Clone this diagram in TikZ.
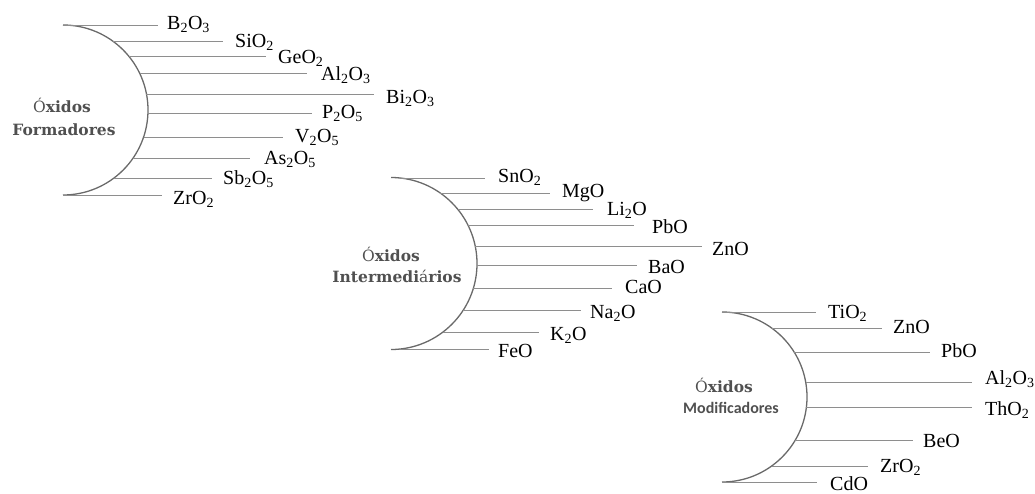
\documentclass[tikz,border=0pt]{standalone}
\usepackage{fontspec}
\setmainfont{Liberation Serif}
\newfontfamily\grpserif{DejaVu Serif}
\newfontfamily\grpsans{Carlito}
\definecolor{arcgray}{HTML}{6A6A6A}
\definecolor{spokegray}{HTML}{8E8E8E}
\definecolor{grptext}{HTML}{505050}
\tikzset{
  arcline/.style={draw=arcgray, line width=1.3pt},
  spoke/.style={draw=spokegray, line width=0.8pt},
  lbl/.style={anchor=base west, inner sep=0pt, font=\fontsize{20}{24}\selectfont},
  grp/.style={anchor=base, inner sep=0pt, text=grptext, font=\grpserif\bfseries\fontsize{15.5}{18}\selectfont},
  grpsf/.style={anchor=base, inner sep=0pt, text=grptext, font=\grpsans\bfseries\fontsize{16}{19}\selectfont}
}
\begin{document}
\begin{tikzpicture}[x=1pt,y=1pt]
\useasboundingbox (0,0) rectangle (1035,-493);

% ---------- Group 1: Formadores ----------
\draw[arcline] (63,-25) arc[start angle=90,end angle=-90,radius=85pt];
\node[grp] (g1a) at (62,-112) {{\mdseries Ó}xidos};
\node[grp] (g1b) at (64,-135) {Formadores};
\foreach \y/\xe/\tx/\ty/\lab [count=\i] in {
  25/158/167/29/B\textsubscript{2}O\textsubscript{3},
  41/223/235/47/SiO\textsubscript{2},
  56/266/278/63/GeO\textsubscript{2},
  73/307/321/80/Al\textsubscript{2}O\textsubscript{3},
  94/374/386/103/Bi\textsubscript{2}O\textsubscript{3},
  113/312/322/118/P\textsubscript{2}O\textsubscript{5},
  137/283/295/142/V\textsubscript{2}O\textsubscript{5},
  158/250/264/164/As\textsubscript{2}O\textsubscript{5},
  178/212/223/184/Sb\textsubscript{2}O\textsubscript{5},
  195/162/173/204/ZrO\textsubscript{2}}{
  \pgfmathsetmacro\xs{63+sqrt(max(0,85*85-(\y-110)*(\y-110)))}
  \coordinate (fs\i) at (\xs,-\y);
  \coordinate (fe\i) at (\xe,-\y);
  \node[lbl] (f\i) at (\tx,-\ty) {\lab};
  \draw[spoke] (fs\i) -- (fe\i);
}

% ---------- Group 2: Intermediarios ----------
\draw[arcline] (391,-177.5) arc[start angle=90,end angle=-90,radius=86pt];
\node[grp] (g2a) at (391,-261.5) {{\mdseries Ó}xidos};
\node[grp] (g2b) at (397,-282.5) {Intermedi{\mdseries á}rios};
\foreach \y/\xe/\tx/\ty/\lab [count=\i] in {
  178/485/498/182/SnO\textsubscript{2},
  193/550/562/197/MgO,
  209/593/607/215/Li\textsubscript{2}O,
  225/634/652/233/PbO,
  246/702/712/255/ZnO,
  265/637/648/273/BaO,
  288/612/625/293/CaO,
  310/581/590/318/Na\textsubscript{2}O,
  332/539/550/340/K\textsubscript{2}O,
  349/489/498/357/FeO}{
  \pgfmathsetmacro\xs{391+sqrt(max(0,86*86-(\y-263.5)*(\y-263.5)))}
  \coordinate (is\i) at (\xs,-\y);
  \coordinate (ie\i) at (\xe,-\y);
  \node[lbl] (i\i) at (\tx,-\ty) {\lab};
  \draw[spoke] (is\i) -- (ie\i);
}

% ---------- Group 3: Modificadores ----------
\draw[arcline] (722,-312) arc[start angle=90,end angle=-90,radius=85pt];
\node[grp] (g3a) at (724,-392.5) {{\mdseries Ó}xidos};
\node[grpsf] (g3b) at (731,-413) {Modificadores};
\foreach \y/\xe/\tx/\ty/\lab [count=\i] in {
  312/816/828/318/TiO\textsubscript{2},
  328/882/893/333/ZnO,
  352/930/941/357/PbO,
  382/972/985/384/Al\textsubscript{2}O\textsubscript{3},
  407/972/985/415/ThO\textsubscript{2},
  440/913/923/447/BeO,
  466/868/880/472/ZrO\textsubscript{2},
  482/817/830/490/CdO}{
  \pgfmathsetmacro\xs{722+sqrt(max(0,85*85-(\y-397)*(\y-397)))}
  \coordinate (ms\i) at (\xs,-\y);
  \coordinate (me\i) at (\xe,-\y);
  \node[lbl] (m\i) at (\tx,-\ty) {\lab};
  \draw[spoke] (ms\i) -- (me\i);
}
\end{tikzpicture}
\end{document}
